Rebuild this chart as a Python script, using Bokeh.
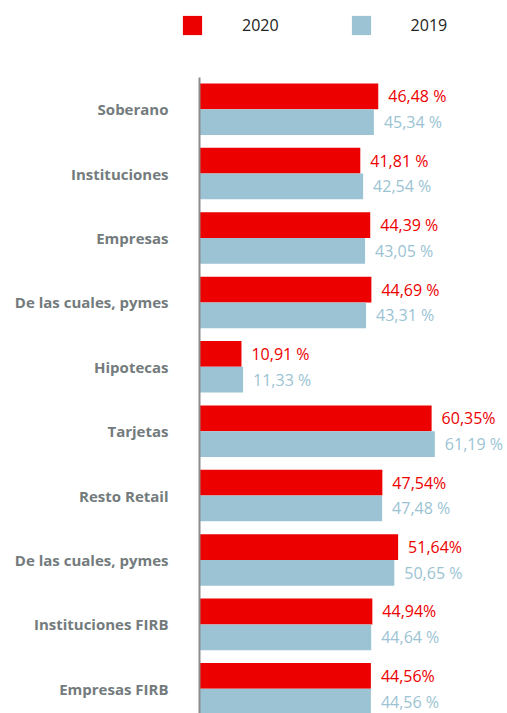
from bokeh.plotting import figure
from bokeh.models import Range1d, FixedTicker, ColumnDataSource, Legend, LegendItem
from bokeh.embed import file_html
from bokeh.resources import INLINE
from bokeh.core.properties import value

categories = ["Soberano", "Instituciones", "Empresas", "De las cuales, pymes", "Hipotecas",
              "Tarjetas", "Resto Retail", "De las cuales, pymes", "Instituciones FIRB", "Empresas FIRB"]
values_2020 = [46.48, 41.81, 44.39, 44.69, 10.91, 60.35, 47.54, 51.64, 44.94, 44.56]
values_2019 = [45.34, 42.54, 43.05, 43.31, 11.33, 61.19, 47.48, 50.65, 44.64, 44.56]
labels_2020 = ["46,48 %", "41,81 %", "44,39 %", "44,69 %", "10,91 %",
               "60,35%", "47,54%", "51,64%", "44,94%", "44,56%"]
labels_2019 = ["45,34 %", "42,54 %", "43,05 %", "43,31 %", "11,33 %",
               "61,19 %", "47,48 %", "50,65 %", "44,64 %", "44,56 %"]
series_names = ["2020", "2019"]

RED = "#EC0000"
BLUE = "#9BC3D3"
FONT = "Open Sans"

idx = list(range(len(categories)))
src20 = ColumnDataSource(dict(y=[i - 0.2 for i in idx], v=values_2020, t=labels_2020))
src19 = ColumnDataSource(dict(y=[i + 0.2 for i in idx], v=values_2019, t=labels_2019))

p = figure(width=507, height=713, output_backend="svg", toolbar_location=None,
           x_range=Range1d(-51.74, 80.08), y_range=Range1d(9.384, -1.688),
           min_border_left=0, min_border_right=0, min_border_top=0, min_border_bottom=0,
           x_axis_location=None)
p.outline_line_color = None
p.xgrid.visible = False
p.ygrid.visible = False

r20 = p.hbar(y="y", left=0, right="v", height=0.4, source=src20, fill_color=RED, line_color=None)
r19 = p.hbar(y="y", left=0, right="v", height=0.4, source=src19, fill_color=BLUE, line_color=None)

p.text(x="v", y="y", text="t", source=src20, x_offset=10, text_baseline="middle",
       text_color=RED, text_font_size="16px", text_font=value(FONT))
p.text(x="v", y="y", text="t", source=src19, x_offset=10, text_baseline="middle",
       text_color=BLUE, text_font_size="16px", text_font=value(FONT))

ax = p.yaxis[0]
ax.fixed_location = 0
ax.bounds = (-0.492, 9.384)
ax.ticker = FixedTicker(ticks=idx)
ax.major_label_overrides = {i: c for i, c in zip(idx, categories)}
ax.major_tick_line_color = None
ax.minor_tick_line_color = None
ax.major_tick_out = 0
ax.major_tick_in = 0
ax.axis_line_color = "#8c8c8c"
ax.axis_line_width = 2
ax.major_label_standoff = 31
ax.major_label_text_font = FONT
ax.major_label_text_font_style = "bold"
ax.major_label_text_font_size = "15px"
ax.major_label_text_color = "#737b7d"

legend = Legend(items=[LegendItem(label=series_names[0], renderers=[r20]),
                       LegendItem(label=series_names[1], renderers=[r19])],
                orientation="horizontal", location=(180, 676),
                glyph_width=24, glyph_height=24, label_height=24, label_standoff=38, spacing=70,
                padding=0, margin=0, border_line_color=None, background_fill_alpha=0,
                label_text_font=FONT, label_text_font_size="16px", label_text_color="#222222")
p.add_layout(legend, "center")

open("out.html", "w").write(file_html(p, INLINE))
